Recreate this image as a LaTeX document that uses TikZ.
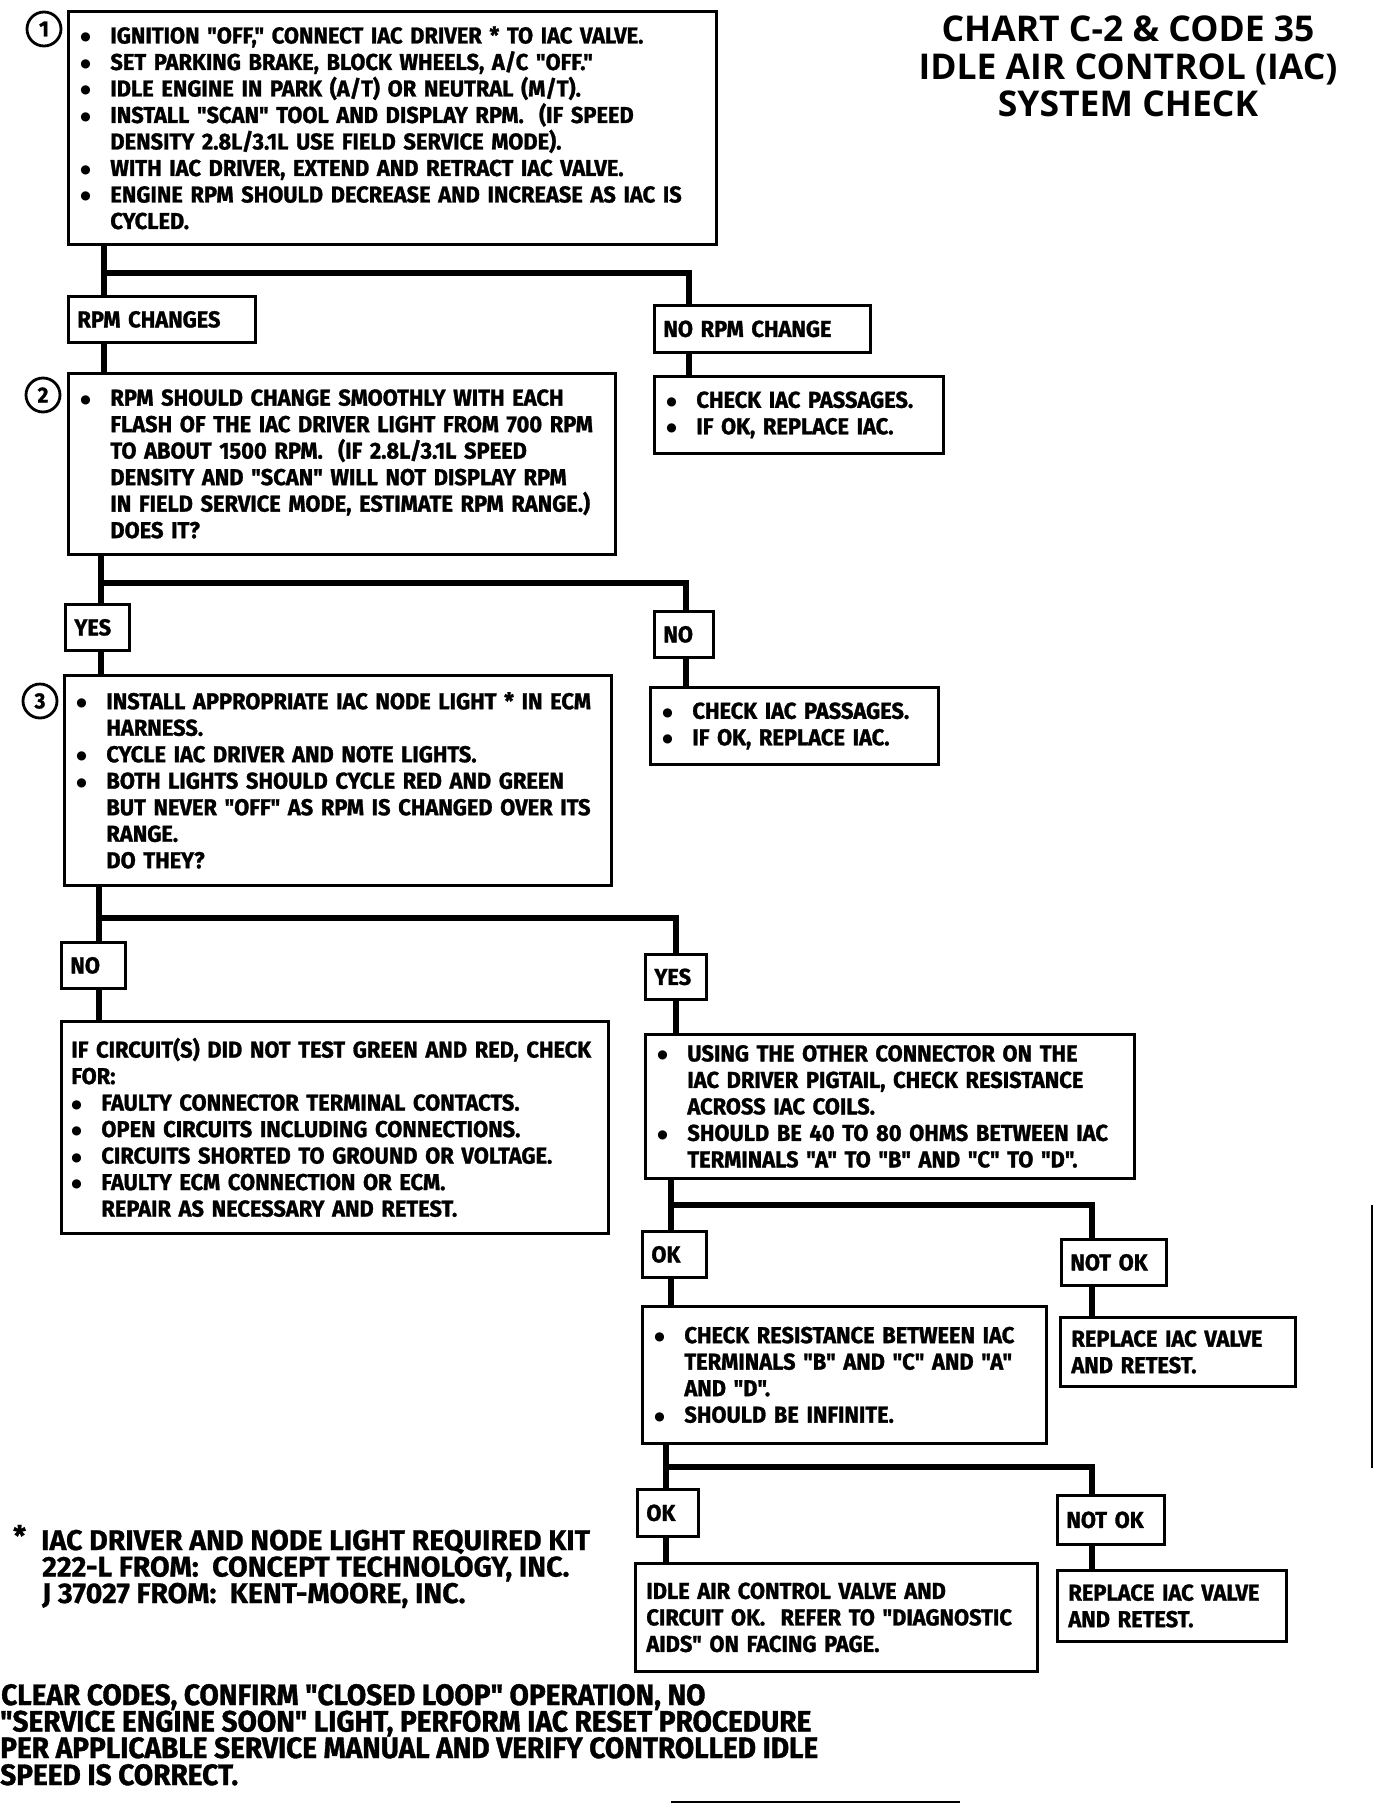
\documentclass[tikz,border=0pt]{standalone}
\usepackage{fontspec}
\setmainfont{Fira Sans}
\newfontfamily\bodyfont[FakeStretch=0.95,FakeBold=1.2]{Fira Sans}
\newfontfamily\footfont[FakeStretch=1.0,FakeBold=0.8]{Fira Sans}
\newfontfamily\titlefont{Open Sans}
\newfontfamily\symfont{DejaVu Sans}
\newcommand\bul{\makebox[30pt][l]{\raisebox{2.5pt}{\symfont\fontsize{12}{12}\selectfont ●}}}
\newcommand\ind{\hspace*{30pt}}
\tikzset{
  box/.style={draw, line width=2.8pt, fill=white, anchor=north west, align=left,
    inner xsep=12pt, inner ysep=0pt,
    font=\bodyfont\bfseries\fontsize{23}{26.5}\selectfont},
  lab/.style={draw, line width=2.8pt, fill=white, anchor=north west, align=left,
    inner xsep=9pt, inner ysep=0pt,
    font=\bodyfont\bfseries\fontsize{23}{26}\selectfont},
  conn/.style={line width=6pt, line join=miter},
  num/.style={circle, draw, line width=2.8pt, fill=white, minimum size=34pt, inner sep=0pt,
    font=\bodyfont\bfseries\fontsize{22}{22}\selectfont},
  ttl/.style={anchor=base, inner sep=0pt, font=\titlefont\bfseries\fontsize{35.5}{35}\selectfont},
  foot/.style={anchor=base west, inner sep=0pt, font=\footfont\bfseries\fontsize{28.5}{28}\selectfont},
  note/.style={anchor=base west, inner sep=0pt, font=\bodyfont\bfseries\fontsize{29.5}{28}\selectfont},
  scan/.style={line width=1.6pt}
}
\begin{document}
\begin{tikzpicture}[x=1pt,y=-1pt]
\useasboundingbox (0,0) rectangle (1392,1806);

% ---------- title ----------
\node[ttl] (t1) at (1128,41.5) {CHART C-2 \& CODE 35};
\node[ttl] (t2) at (1128,79.5) {IDLE AIR CONTROL (IAC)};
\node[ttl] (t3) at (1128,116.5) {SYSTEM CHECK};

% ---------- step 1 ----------
\node[box, minimum width=648pt, minimum height=233pt, text width=624pt] (b1) at (67,10) {%
\bul IGNITION "OFF," CONNECT IAC DRIVER * TO IAC VALVE.\\
\bul SET PARKING BRAKE, BLOCK WHEELS, A/C "OFF."\\
\bul IDLE ENGINE IN PARK (A/T) OR NEUTRAL (M/T).\\
\bul INSTALL "SCAN" TOOL AND DISPLAY RPM.~ (IF SPEED\\
\ind DENSITY 2.8L/3.1L USE FIELD SERVICE MODE).\\
\bul WITH IAC DRIVER, EXTEND AND RETRACT IAC VALVE.\\
\bul ENGINE RPM SHOULD DECREASE AND INCREASE AS IAC IS\\
\ind CYCLED.};
\node[num] (n1) at (44,29) {1};

\node[lab, minimum width=187pt, minimum height=46pt, text width=169pt] (rpm) at (67,295) {RPM CHANGES};
\node[lab, minimum width=216pt, minimum height=47pt, text width=198pt] (norpm) at (653,304) {NO RPM CHANGE};
\node[box, minimum width=289pt, minimum height=77pt, text width=265pt] (c1) at (653,375) {%
\bul CHECK IAC PASSAGES.\\
\bul IF OK, REPLACE IAC.};

% ---------- step 2 ----------
\node[box, minimum width=547pt, minimum height=181pt, text width=523pt] (b2) at (67,372) {%
\bul RPM SHOULD CHANGE SMOOTHLY WITH EACH\\
\ind FLASH OF THE IAC DRIVER LIGHT FROM 700 RPM\\
\ind TO ABOUT 1500 RPM.~ (IF 2.8L/3.1L SPEED\\
\ind DENSITY AND "SCAN" WILL NOT DISPLAY RPM\\
\ind IN FIELD SERVICE MODE, ESTIMATE RPM RANGE.)\\
\ind DOES IT?};
\node[num] (n2) at (43,395) {2};

\node[lab, minimum width=64pt, minimum height=46pt, text width=46pt] (yes1) at (64,603) {YES};
\node[lab, minimum width=59pt, minimum height=46pt, text width=41pt] (no1) at (653,610) {NO};
\node[box, minimum width=288pt, minimum height=77pt, text width=264pt] (c2) at (649,686) {%
\bul CHECK IAC PASSAGES.\\
\bul IF OK, REPLACE IAC.};

% ---------- step 3 ----------
\node[box, minimum width=547pt, minimum height=210pt, text width=523pt] (b3) at (63,674) {%
\bul INSTALL APPROPRIATE IAC NODE LIGHT * IN ECM\\
\ind HARNESS.\\
\bul CYCLE IAC DRIVER AND NOTE LIGHTS.\\
\bul BOTH LIGHTS SHOULD CYCLE RED AND GREEN\\
\ind BUT NEVER "OFF" AS RPM IS CHANGED OVER ITS\\
\ind RANGE.\\
\ind DO THEY?};
\node[num] (n3) at (40,701) {3};

\node[lab, minimum width=64pt, minimum height=46pt, text width=46pt] (no2) at (60,941) {NO};
\node[lab, minimum width=61pt, minimum height=45pt, text width=43pt] (yes2) at (644,953) {YES};

\node[box, inner xsep=10pt, minimum width=547pt, minimum height=212pt, text width=527pt] (fail) at (60,1020) {%
IF CIRCUIT(S) DID NOT TEST GREEN AND RED, CHECK\\
FOR:\\
\bul FAULTY CONNECTOR TERMINAL CONTACTS.\\
\bul OPEN CIRCUITS INCLUDING CONNECTIONS.\\
\bul CIRCUITS SHORTED TO GROUND OR VOLTAGE.\\
\bul FAULTY ECM CONNECTION OR ECM.\\
\ind REPAIR AS NECESSARY AND RETEST.};

\node[box, minimum width=489pt, minimum height=144pt, text width=465pt] (b4) at (644,1033) {%
\bul USING THE OTHER CONNECTOR ON THE\\
\ind IAC DRIVER PIGTAIL, CHECK RESISTANCE\\
\ind ACROSS IAC COILS.\\
\bul SHOULD BE 40 TO 80 OHMS BETWEEN IAC\\
\ind TERMINALS "A" TO "B" AND "C" TO "D".};

\node[lab, minimum width=64pt, minimum height=46pt, text width=46pt] (ok1) at (641,1230) {OK};
\node[lab, minimum width=105pt, minimum height=46pt, text width=87pt] (nok1) at (1060,1238) {NOT OK};

\node[box, minimum width=404pt, minimum height=137pt, text width=380pt] (b5) at (641,1305) {%
\bul CHECK RESISTANCE BETWEEN IAC\\
\ind TERMINALS "B" AND "C" AND "A"\\
\ind AND "D".\\
\bul SHOULD BE INFINITE.};
\node[box, inner xsep=11pt, minimum width=235pt, minimum height=69pt, text width=213pt] (rep1) at (1059,1316) {%
REPLACE IAC VALVE\\
AND RETEST.};

\node[lab, minimum width=61pt, minimum height=47pt, text width=43pt] (ok2) at (636,1488) {OK};
\node[lab, minimum width=107pt, minimum height=49pt, text width=89pt] (nok2) at (1056,1494) {NOT OK};

\node[box, inner xsep=11pt, minimum width=402pt, minimum height=108pt, text width=380pt] (fin) at (634,1562) {%
IDLE AIR CONTROL VALVE AND\\
CIRCUIT OK.~ REFER TO "DIAGNOSTIC\\
AIDS" ON FACING PAGE.};
\node[box, inner xsep=11pt, minimum width=229pt, minimum height=71pt, text width=207pt] (rep2) at (1056,1569) {%
REPLACE IAC VALVE\\
AND RETEST.};

% ---------- connectors ----------
\coordinate (j1) at (104,273);  \coordinate (j1r) at (689,273);
\coordinate (j2) at (101,583);  \coordinate (j2r) at (686,583);
\coordinate (j3) at (99,918);   \coordinate (j3r) at (676,918);
\coordinate (j4) at (671,1205); \coordinate (j4r) at (1092,1205);
\coordinate (j5) at (666,1467); \coordinate (j5r) at (1092,1467);

\draw[conn] (b1.south -| j1) -- (rpm.north -| j1);
\draw[conn] (rpm.south -| j1) -- (b2.north -| j1);
\draw[conn] (j1) -- (j1r) -- (norpm.north -| j1r);
\draw[conn] (norpm.south -| j1r) -- (c1.north -| j1r);

\draw[conn] (b2.south -| j2) -- (yes1.north -| j2);
\draw[conn] (yes1.south -| j2) -- (b3.north -| j2);
\draw[conn] (j2) -- (j2r) -- (no1.north -| j2r);
\draw[conn] (no1.south -| j2r) -- (c2.north -| j2r);

\draw[conn] (b3.south -| j3) -- (no2.north -| j3);
\draw[conn] (no2.south -| j3) -- (fail.north -| j3);
\draw[conn] (j3) -- (j3r) -- (yes2.north -| j3r);
\draw[conn] (yes2.south -| j3r) -- (b4.north -| j3r);

\draw[conn] (b4.south -| j4) -- (ok1.north -| j4);
\draw[conn] (ok1.south -| j4) -- (b5.north -| j4);
\draw[conn] (j4) -- (j4r) -- (nok1.north -| j4r);
\draw[conn] (nok1.south -| j4r) -- (rep1.north -| j4r);

\draw[conn] (b5.south -| j5) -- (ok2.north -| j5);
\draw[conn] (ok2.south -| j5) -- (fin.north -| j5);
\draw[conn] (j5) -- (j5r) -- (nok2.north -| j5r);
\draw[conn] (nok2.south -| j5r) -- (rep2.north -| j5r);

% ---------- footnote ----------
\node[foot] (fs) at (13,1546) {*};
\node[foot] (f1) at (41,1550) {IAC DRIVER AND NODE LIGHT REQUIRED KIT};
\node[foot] (f2) at (42,1576.5) {222-L FROM:~ CONCEPT TECHNOLOGY, INC.};
\node[foot] (f3) at (42,1603) {J 37027 FROM:~ KENT-MOORE, INC.};

% ---------- closing note ----------
\node[note] (m1) at (1,1705) {CLEAR CODES, CONFIRM "CLOSED LOOP" OPERATION, NO};
\node[note] (m2) at (0,1731.5) {"SERVICE ENGINE SOON" LIGHT, PERFORM IAC RESET PROCEDURE};
\node[note] (m3) at (0,1758) {PER APPLICABLE SERVICE MANUAL AND VERIFY CONTROLLED IDLE};
\node[note] (m4) at (0,1785) {SPEED IS CORRECT.};

% ---------- scan marks ----------
\coordinate (s1a) at (1372,1205); \coordinate (s1b) at (1372,1468);
\coordinate (s2a) at (671,1802);  \coordinate (s2b) at (960,1802);
\draw[scan] (s1a) -- (s1b);
\draw[scan] (s2a) -- (s2b);
\end{tikzpicture}
\end{document}
